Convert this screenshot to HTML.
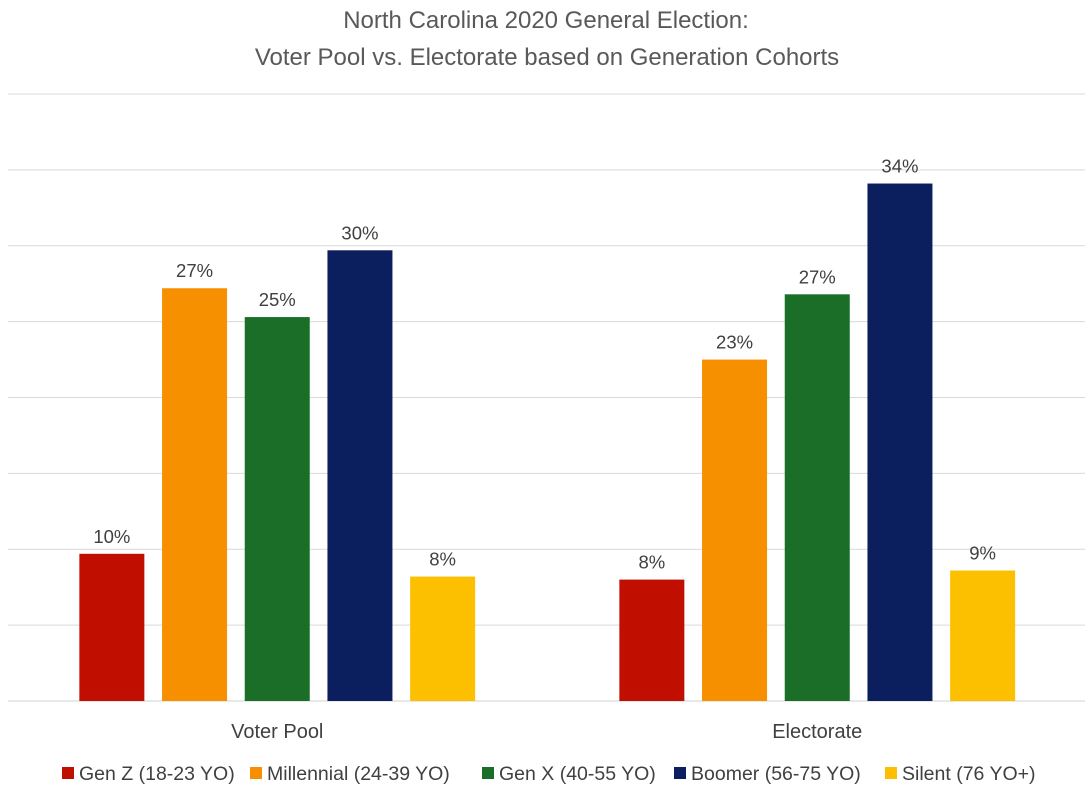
<!DOCTYPE html>
<html><head><meta charset="utf-8"><style>
body{margin:0;background:#fff;}
svg text{font-family:"Liberation Sans",sans-serif;fill:#404040;}
</style></head><body>
<svg id="chart" width="1089" height="791" xmlns="http://www.w3.org/2000/svg">
<text x="546" y="28" font-size="24" text-anchor="middle" style="fill:#595959">North Carolina 2020 General Election:</text>
<text x="547" y="65" font-size="24" text-anchor="middle" style="fill:#595959">Voter Pool vs. Electorate based on Generation Cohorts</text>
<g id="grid"></g>
<g id="bars"></g>
<g id="legend"></g>
</svg>
<script>
const categories = ["Voter Pool", "Electorate"];
const seriesNames = ["Gen Z (18-23 YO)", "Millennial (24-39 YO)", "Gen X (40-55 YO)", "Boomer (56-75 YO)", "Silent (76 YO+)"];
const genZ = [9.7, 8.0];
const millennial = [27.2, 22.5];
const genX = [25.3, 26.8];
const boomer = [29.7, 34.1];
const silent = [8.2, 8.6];
const valueLabels = [["10%", "8%"], ["27%", "23%"], ["25%", "27%"], ["30%", "34%"], ["8%", "9%"]];
const gridTicks = [0, 5, 10, 15, 20, 25, 30, 35, 40];

const series = [genZ, millennial, genX, boomer, silent];
const colors = ["#C00F00", "#F79000", "#1B6E27", "#0B1F5E", "#FCC000"];
const NS = "http://www.w3.org/2000/svg";
const x0 = 8, x1 = 1085, yBase = 701, yTop = 94, vMax = 40;
const y = v => yBase - (v / vMax) * (yBase - yTop);
const catW = (x1 - x0) / categories.length;
const barW = 65, step = 82.7;
function mk(tag, attrs, parent) { const e = document.createElementNS(NS, tag); for (const k in attrs) e.setAttribute(k, attrs[k]); parent.appendChild(e); return e; }
const grid = document.getElementById('grid');
gridTicks.forEach(t => {
  const l = mk('line', {x1: x0, x2: x1, y1: y(t), y2: y(t), stroke: t === 0 ? '#d0d0d0' : '#d9d9d9', 'stroke-width': 1}, grid);
  
  
});
const bars = document.getElementById('bars');
categories.forEach((c, ci) => {
  const cx = x0 + catW * (ci + 0.5) + ci * 1.5;
  const startX = cx - (step * (series.length - 1) + barW) / 2;
  series.forEach((s, si) => {
    const bx = startX + si * step;
    const r = mk('rect', {x: bx, y: y(s[ci]), width: barW, height: yBase - y(s[ci]), fill: colors[si]}, bars);
    
    
    const t = mk('text', {x: bx + barW / 2, y: y(s[ci]) - 11, 'font-size': 18.5, 'text-anchor': 'middle'}, bars);
    t.textContent = valueLabels[si][ci];
    
    
  });
  const ct = mk('text', {x: cx, y: 738, 'font-size': 20, 'text-anchor': 'middle'}, bars);
  ct.textContent = c;
  
  
});
const legend = document.getElementById('legend');
const legX = [62, 250, 482, 674, 885];
seriesNames.forEach((n, i) => {
  const sq = mk('rect', {x: legX[i], y: 767, width: 12, height: 12, fill: colors[i]}, legend);
  
  
  const t = mk('text', {x: legX[i] + 17, y: 780, 'font-size': 19.5}, legend);
  t.textContent = n;
  
  
});
</script>
</body></html>
